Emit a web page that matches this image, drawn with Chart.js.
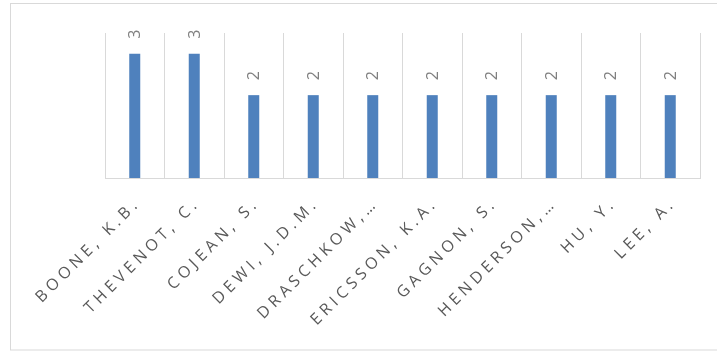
<!DOCTYPE html>
<html>
<head>
<meta charset="utf-8">
<script src="https://cdn.jsdelivr.net/npm/chart.js@4.4.1/dist/chart.umd.min.js"></script>
<style>
  html, body { margin: 0; padding: 0; background: #ffffff; }
  #wrap { width: 717px; height: 351px; position: relative; }
</style>
</head>
<body>
<div id="wrap"><canvas id="c" width="717" height="351"></canvas></div>
<script>
const categories = ['BOONE, K.B.', 'THEVENOT, C.', 'COJEAN, S.', 'DEWI, J.D.M.', 'DRASCHKOW,…', 'ERICSSON, K.A.', 'GAGNON, S.', 'HENDERSON,…', 'HU, Y.', 'LEE, A.'];
const values = [3, 3, 2, 2, 2, 2, 2, 2, 2, 2];
const yMin = 0;
const yMax = 3.5;

const frame = {
  id: 'frame',
  beforeDraw(chart) {
    const ctx = chart.ctx;
    ctx.save();
    ctx.strokeStyle = '#d9d9d9';
    ctx.lineWidth = 1;
    ctx.strokeRect(10.5, 3.5, 740, 346.5);
    ctx.restore();
    ctx.letterSpacing = '4.3px';
  },
  beforeDatasetsDraw(chart) {
    chart.ctx.letterSpacing = '0px';
  },
  afterDatasetsDraw(chart) {
    const ctx = chart.ctx;
    const meta = chart.getDatasetMeta(0);
    ctx.save();
    ctx.fillStyle = '#808080';
    ctx.font = '16px "Open Sans"';
    ctx.textAlign = 'left';
    ctx.textBaseline = 'middle';
    meta.data.forEach((bar, i) => {
      ctx.save();
      ctx.translate(bar.x + 1, bar.y - 15);
      ctx.rotate(-Math.PI / 2);
      ctx.fillText(String(values[i]), 0, 0);
      ctx.restore();
    });
    ctx.restore();
  }
};

new Chart(document.getElementById('c'), {
  type: 'bar',
  data: {
    labels: categories,
    datasets: [{
      data: values,
      backgroundColor: '#4f81bd',
      borderWidth: 0,
      barPercentage: 0.185,
      categoryPercentage: 1
    }]
  },
  options: {
    responsive: false,
    animation: false,
    devicePixelRatio: 1,
    layout: { padding: { left: 105, right: 17, top: 33, bottom: 0 } },
    plugins: { legend: { display: false }, tooltip: { enabled: false } },
    scales: {
      y: { display: false, min: yMin, max: yMax },
      x: {
        grid: { color: '#d9d9d9', lineWidth: 1, drawTicks: false, offset: true },
        border: { color: '#d9d9d9', width: 1 },
        ticks: {
          color: '#595959',
          font: { family: '"Open Sans"', size: 16 },
          minRotation: 45,
          maxRotation: 45,
          autoSkip: false,
          padding: 16,
          labelOffset: 3
        },
        afterFit(scale) { scale.height = 173; }
      }
    }
  },
  plugins: [frame]
});
</script>
</body>
</html>
